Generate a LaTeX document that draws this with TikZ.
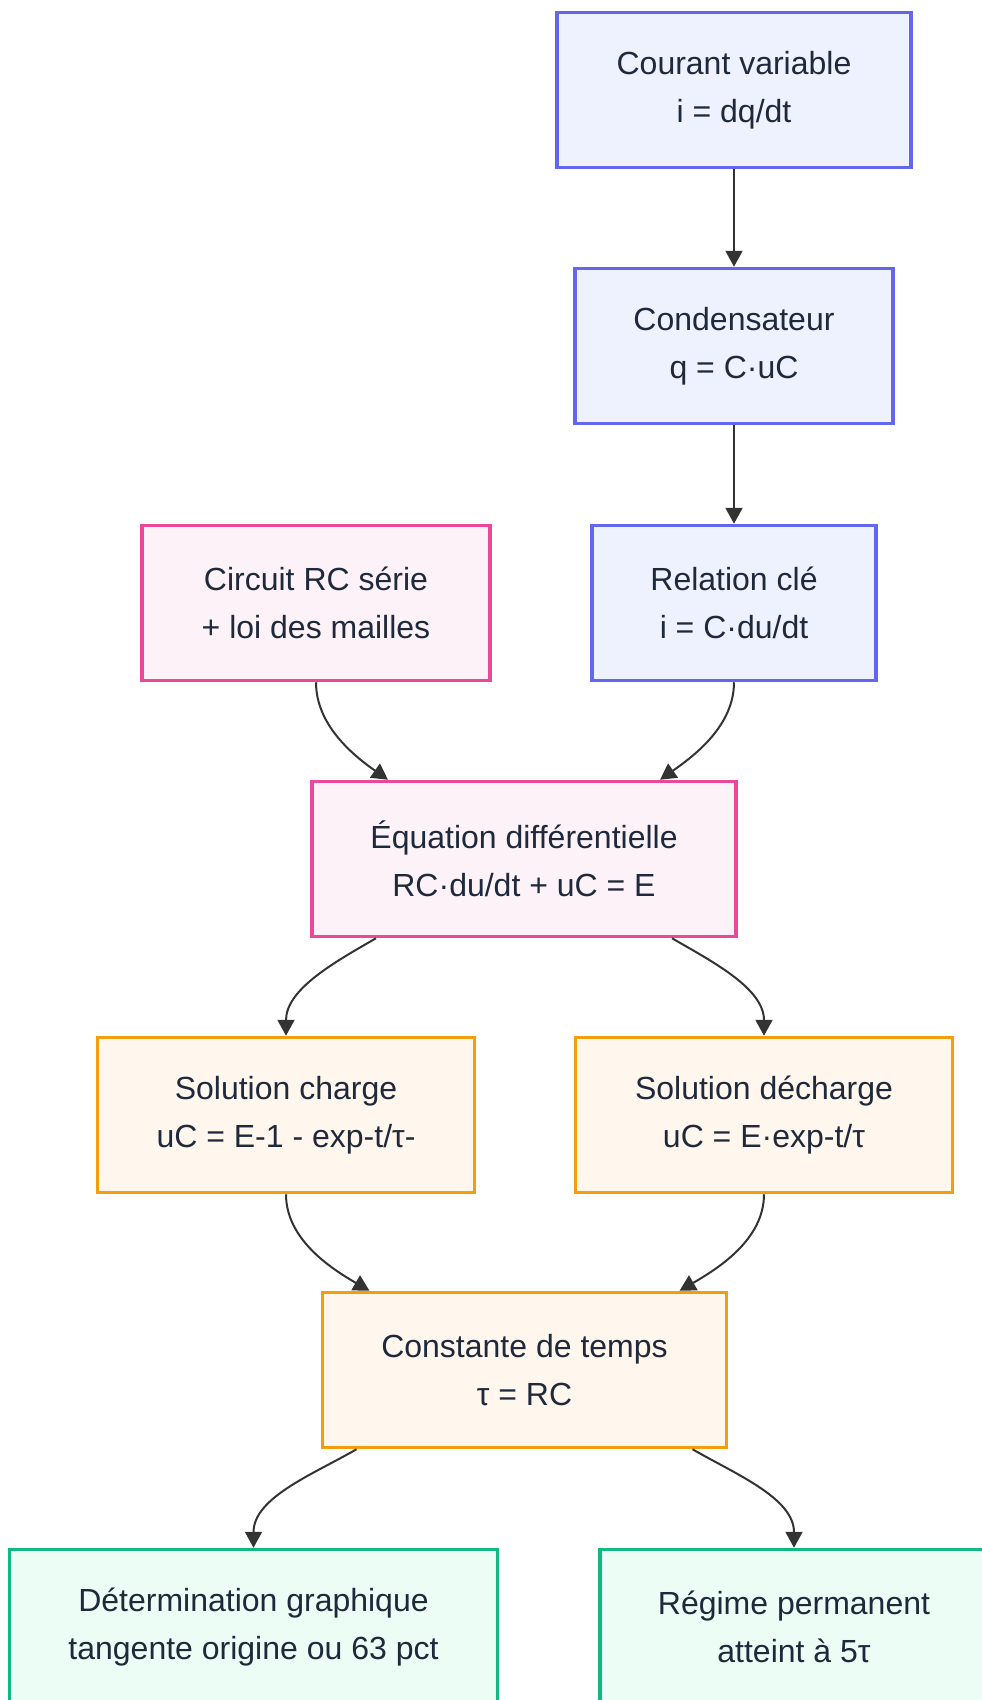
\documentclass[tikz,border=0pt]{standalone}
\usepackage{fontspec}
\setmainfont{Liberation Sans}
\usetikzlibrary{arrows.meta, positioning}

\definecolor{inkblue}{HTML}{6366F1}
\definecolor{fillblue}{HTML}{EEF2FF}
\definecolor{inkpink}{HTML}{EC4899}
\definecolor{fillpink}{HTML}{FDF2F8}
\definecolor{inkorange}{HTML}{F59E0B}
\definecolor{fillorange}{HTML}{FFF7ED}
\definecolor{inkgreen}{HTML}{10B981}
\definecolor{fillgreen}{HTML}{ECFDF5}
\definecolor{textnavy}{HTML}{1E293B}
\definecolor{linkgray}{HTML}{333333}

\begin{document}
\begin{tikzpicture}[x=1pt, y=1pt,
      % Define compact styles
      box/.style={rectangle, draw, line width=3.5pt, minimum height=155pt, align=center, text=textnavy, font=\fontsize{32}{48}\selectfont},
      physics/.style={box, draw=inkblue, fill=fillblue},
      model/.style={box, draw=inkpink, fill=fillpink},
      solution/.style={box, draw=inkorange, fill=fillorange},
      result/.style={box, draw=inkgreen, fill=fillgreen},
      arrow/.style={-{Triangle[length=16pt, width=17pt]}, line width=2pt, draw=linkgray}
    ]
    \useasboundingbox (0,0) rectangle (982,-1700);
    \clip (0,0) rectangle (982,-1700);

    % Right column - capacitor relations
    \node[physics, minimum width=354pt] (courant) at (734,-90) {Courant variable\\i = dq/dt};
    \node[physics, minimum width=318pt] (condo) at (734,-346) {Condensateur\\q = C·uC};
    \node[physics, minimum width=284pt] (relation) at (734,-603) {Relation clé\\i = C·du/dt};

    % Left - circuit law
    \node[model, minimum width=348pt] (circuit) at (316,-603) {Circuit RC série\\+ loi des mailles};
    \node[model, minimum width=424pt] (equa) at (524,-859) {Équation différentielle\\RC·du/dt + uC = E};

    % Solutions
    \node[solution, minimum width=377pt] (charge) at (286,-1115) {Solution charge\\uC = E-1 - exp-t/τ-};
    \node[solution, minimum width=377pt] (decharge) at (764,-1115) {Solution décharge\\uC = E·exp-t/τ};
    \node[solution, minimum width=404pt] (tau) at (524.5,-1370) {Constante de temps\\τ = RC};

    % Bottom row - results
    \node[result, minimum width=488pt] (graph) at (253.5,-1627) {Détermination graphique\\tangente origine ou 63 pct};
    \node[result, minimum width=388pt] (regime) at (794,-1627) {Régime permanent\\atteint à 5τ};

    % Arrows
    \draw[arrow] (courant) -- (condo);
    \draw[arrow] (condo) -- (relation);

    % Merging flow
    \draw[arrow] (circuit.south) to[out=-90, in=145, looseness=0.9] ([xshift=-136pt]equa.north);
    \draw[arrow] (relation.south) to[out=-90, in=35, looseness=0.9] ([xshift=136pt]equa.north);
    \draw[arrow] ([xshift=-148pt]equa.south) to[out=-150, in=90, looseness=0.9] (charge.north);
    \draw[arrow] ([xshift=148pt]equa.south) to[out=-30, in=90, looseness=0.9] (decharge.north);
    \draw[arrow] (charge.south) to[out=-90, in=150, looseness=0.9] ([xshift=-155pt]tau.north);
    \draw[arrow] (decharge.south) to[out=-90, in=30, looseness=0.9] ([xshift=155pt]tau.north);
    \draw[arrow] ([xshift=-168pt]tau.south) to[out=-150, in=90, looseness=0.9] (graph.north);
    \draw[arrow] ([xshift=168pt]tau.south) to[out=-30, in=90, looseness=0.9] (regime.north);

  \end{tikzpicture}
\end{document}
